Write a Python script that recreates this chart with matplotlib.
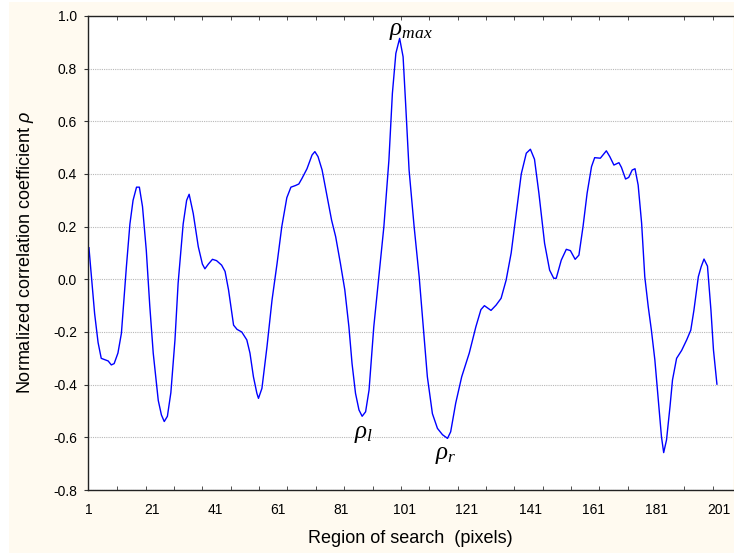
import matplotlib.pyplot as plt
from matplotlib.patches import Rectangle
import numpy as np

# correlation curve
pos = [1, 2.8, 3.9, 4.9, 7.1, 8.1, 9, 10.2, 11.3, 12.9, 14, 15, 16.1, 17, 18,
       19.2, 20.3, 21.4, 23, 24, 24.9, 25.9, 27, 28.3, 29.3, 30.9, 32, 32.8,
       34.1, 35.7, 37, 37.8, 38.9, 40.2, 41.5, 43.1, 44.2, 45.3, 46.9, 48,
       49.5, 51.1, 52.1, 53.2, 54.3, 54.8, 55.9, 57.5, 59.1, 60.7, 62.2, 63.8,
       65.1, 66.5, 67.6, 68.6, 70.2, 71.8, 72.7, 73.7, 75, 76.6, 78, 79.3,
       80.8, 82.2, 83.5, 84.5, 85.6, 86.7, 87.7, 88.8, 89.9, 91.4, 93, 94.6,
       96.2, 97.3, 98.4, 99.6, 100.7, 101.5, 102.6, 104.2, 105.8, 107.1,
       108.4, 110, 111.6, 113.2, 114.8, 115.8, 117.4, 119.3, 121.7, 123.8,
       125.4, 126.5, 128.6, 130.2, 131.8, 133.4, 135, 136.6, 138.2, 139.8,
       141.1, 142.4, 143.8, 145.6, 147.2, 148.5, 149.3, 150.9, 152.5, 153.8,
       155.3, 156.5, 157.8, 159.1, 160.5, 161.5, 163.3, 165.2, 166.3, 167.6,
       169.2, 170, 171.3, 172.3, 173.4, 174.3, 175.3, 176.4, 177.4, 178.5,
       179.5, 180.6, 181.7, 182.7, 183.4, 184.3, 185.4, 186.2, 187.5, 189.1,
       190.7, 192, 193, 194.4, 195.3, 196.2, 197.3, 198.4, 199.2, 200.3]
rho = [0.12, -0.13, -0.24, -0.30, -0.31, -0.325, -0.32, -0.28, -0.205, 0.05,
       0.21, 0.30, 0.35, 0.35, 0.276, 0.11, -0.10, -0.28, -0.46, -0.515,
       -0.54, -0.52, -0.43, -0.23, -0.015, 0.21, 0.30, 0.323, 0.25, 0.124,
       0.058, 0.04, 0.058, 0.076, 0.071, 0.054, 0.03, -0.04, -0.174, -0.19,
       -0.20, -0.23, -0.28, -0.37, -0.433, -0.452, -0.414, -0.256, -0.079,
       0.06, 0.2, 0.31, 0.35, 0.356, 0.362, 0.383, 0.42, 0.472, 0.485, 0.466,
       0.415, 0.314, 0.225, 0.162, 0.061, -0.04, -0.18, -0.32, -0.433, -0.496,
       -0.52, -0.503, -0.42, -0.18, 0.01, 0.2, 0.453, 0.706, 0.858, 0.915,
       0.845, 0.668, 0.415, 0.20, 0.01, -0.18, -0.37, -0.51, -0.566, -0.59,
       -0.604, -0.579, -0.47, -0.37, -0.28, -0.18, -0.115, -0.10, -0.118,
       -0.098, -0.072, -0.003, 0.10, 0.25, 0.40, 0.479, 0.494, 0.456, 0.327,
       0.137, 0.035, 0.004, 0.004, 0.073, 0.114, 0.109, 0.076, 0.092, 0.20,
       0.327, 0.428, 0.462, 0.46, 0.488, 0.466, 0.434, 0.443, 0.425, 0.381,
       0.387, 0.415, 0.42, 0.358, 0.213, 0.01, -0.104, -0.193, -0.306,
       -0.458, -0.598, -0.658, -0.61, -0.484, -0.382, -0.30, -0.27, -0.23,
       -0.193, -0.117, 0.01, 0.048, 0.077, 0.05, -0.117, -0.268, -0.398]

xtick_labels = [1, 21, 41, 61, 81, 101, 121, 141, 161, 181, 201]
ytick_values = [-0.8, -0.6, -0.4, -0.2, 0.0, 0.2, 0.4, 0.6, 0.8, 1.0]

# annotation labels: (text, x, y)
marks = [(r'$\rho_{max}$', 103.2, 0.945),
         (r'$\rho_{l}$', 88.3, -0.585),
         (r'$\rho_{r}$', 114.3, -0.665)]

plt.rcParams['font.family'] = ['Liberation Sans', 'DejaVu Sans']
plt.rcParams['mathtext.fontset'] = 'custom'
plt.rcParams['mathtext.rm'] = 'Liberation Serif'
plt.rcParams['mathtext.it'] = 'Liberation Serif:italic'
plt.rcParams['mathtext.sf'] = 'Liberation Sans:italic'

fig = plt.figure(figsize=(7.34, 5.53), dpi=100)
fig.patches.append(Rectangle((9 / 734, 0), 1, 1 - 2 / 553, transform=fig.transFigure,
                             facecolor='#fffaf0', edgecolor='none', zorder=-10))
ax = fig.add_axes([88 / 734, 1 - 490 / 553, 645 / 734, 474 / 553])
ax.set_facecolor('white')

ax.plot(pos, rho, color='#0000ff', linewidth=1.0)

for txt, x, y in marks:
    ax.text(x, y, txt, fontsize=18, ha='center', va='center')

ax.set_xlim(0.7, 205.4)
ax.set_ylim(-0.8, 1.0)
ax.set_xticks(xtick_labels)
ax.set_xticks(np.arange(10, 205, 9), minor=True)
ax.set_yticks(ytick_values)
ax.set_yticklabels(['%.1f' % v for v in ytick_values])
ax.tick_params(axis='x', which='major', length=0, pad=9, labelsize=10)
ax.tick_params(axis='x', which='minor', direction='in', length=3, top=True,
               color='#333333')
ax.tick_params(axis='y', direction='out', length=3, pad=5, labelsize=10,
               color='#333333')

ax.yaxis.grid(True, linestyle=(0, (1, 1)), color='#b8b8b8', linewidth=0.8)
ax.set_axisbelow(True)

ax.spines['right'].set_visible(False)
for side in ['left', 'bottom', 'top']:
    ax.spines[side].set_color('#222222')
    ax.spines[side].set_linewidth(1.0)

ax.set_xlabel('Region of search  (pixels)', fontsize=13)
ax.set_ylabel(r'Normalized correlation coefficient $\mathsf{\rho}$', fontsize=13)
ax.xaxis.set_label_coords(0.5, -0.084)
ax.yaxis.set_label_coords(-0.081, 0.5)

plt.savefig('out.png', dpi=100)
